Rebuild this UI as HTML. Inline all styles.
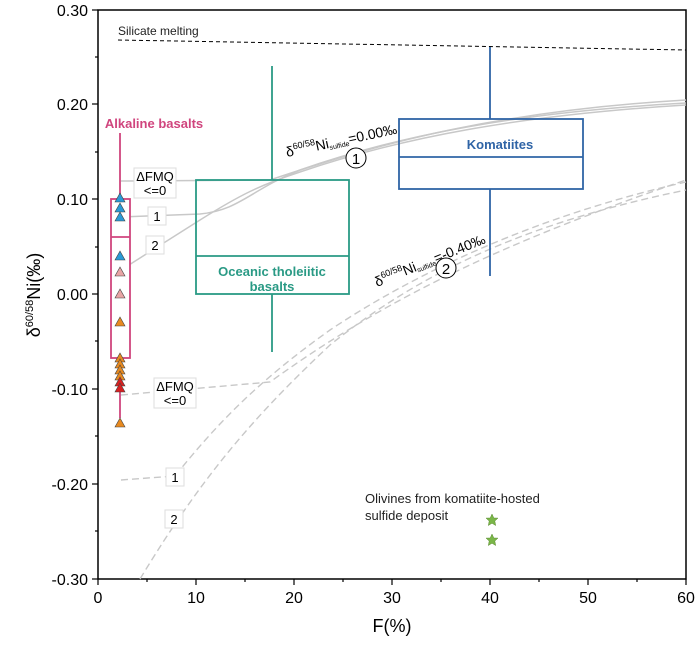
<!DOCTYPE html><html><head><style>body{margin:0;background:#fff}svg{font-family:"Liberation Sans",Arial,sans-serif}</style></head><body>
<svg width="700" height="649" viewBox="0 0 700 649" xmlns="http://www.w3.org/2000/svg">
<rect x="98" y="10" width="588" height="569" fill="none" stroke="#000" stroke-width="1.5"/>
<g stroke="#000" stroke-width="1.2">
<line x1="98" y1="10" x2="92" y2="10"/><line x1="98" y1="57" x2="95" y2="57"/><line x1="98" y1="104" x2="92" y2="104"/><line x1="98" y1="152" x2="95" y2="152"/><line x1="98" y1="199" x2="92" y2="199"/><line x1="98" y1="247" x2="95" y2="247"/><line x1="98" y1="294" x2="92" y2="294"/><line x1="98" y1="341" x2="95" y2="341"/><line x1="98" y1="389" x2="92" y2="389"/><line x1="98" y1="436" x2="95" y2="436"/><line x1="98" y1="484" x2="92" y2="484"/><line x1="98" y1="531" x2="95" y2="531"/><line x1="98" y1="579" x2="92" y2="579"/>
<line x1="98" y1="579" x2="98" y2="585"/><line x1="147" y1="579" x2="147" y2="582"/><line x1="196" y1="579" x2="196" y2="585"/><line x1="245" y1="579" x2="245" y2="582"/><line x1="294" y1="579" x2="294" y2="585"/><line x1="343" y1="579" x2="343" y2="582"/><line x1="392" y1="579" x2="392" y2="585"/><line x1="441" y1="579" x2="441" y2="582"/><line x1="490" y1="579" x2="490" y2="585"/><line x1="539" y1="579" x2="539" y2="582"/><line x1="588" y1="579" x2="588" y2="585"/><line x1="637" y1="579" x2="637" y2="582"/><line x1="686" y1="579" x2="686" y2="585"/>
</g>
<g font-size="16" text-anchor="end">
<text x="88" y="16">0.30</text><text x="88" y="110">0.20</text><text x="88" y="205">0.10</text><text x="88" y="300">0.00</text><text x="88" y="395">-0.10</text><text x="88" y="490">-0.20</text><text x="88" y="585">-0.30</text></g>
<g font-size="16" text-anchor="middle">
<text x="98" y="603">0</text><text x="196" y="603">10</text><text x="294" y="603">20</text><text x="392" y="603">30</text><text x="490" y="603">40</text><text x="588" y="603">50</text><text x="686" y="603">60</text>
<text x="392" y="632" font-size="18">F(%)</text></g>
<text transform="translate(40,295) rotate(-90)" font-size="18" text-anchor="middle">δ<tspan font-size="11" dy="-7">60/58</tspan><tspan dy="7">Ni(‰)</tspan></text>
<line x1="118" y1="40" x2="686" y2="50" stroke="#000" stroke-dasharray="4,3"/>
<text x="118" y="35" font-size="12" fill="#222">Silicate melting</text>
<!-- solid curves -->
<g fill="none" stroke="#c8c8c8" stroke-width="1.5">
<path d="M121,181 L270,180 C360,150 480,112 686,100"/>
<path d="M121,217 L200,214 C240,210 250,190 300,170 C400,135 520,112 686,103"/>
<path d="M121,270 L200,220 C240,195 260,185 300,172 C400,138 520,115 686,105"/>
</g>
<g fill="none" stroke="#c8c8c8" stroke-width="1.4" stroke-dasharray="7,4">
<path d="M121,395 L270,382 C370,310 480,250 686,180"/>
<path d="M121,480 L175,476 C220,420 260,380 330,330 C420,270 540,215 686,182"/>
<path d="M140,579 C200,480 250,420 330,345 C430,265 540,220 686,190"/>
</g>
<!-- label boxes -->
<g font-size="13" text-anchor="middle">
<rect x="134" y="168" width="42" height="30" fill="#fff" stroke="#ddd"/><text x="155" y="181">ΔFMQ</text><text x="155" y="195">&lt;=0</text>
<rect x="148" y="207" width="18" height="18" fill="#fff" stroke="#ddd"/><text x="157" y="221">1</text>
<rect x="146" y="236" width="18" height="18" fill="#fff" stroke="#ddd"/><text x="155" y="250">2</text>
<rect x="154" y="378" width="42" height="30" fill="#fff" stroke="#ddd"/><text x="175" y="391">ΔFMQ</text><text x="175" y="405">&lt;=0</text>
<rect x="166" y="468" width="18" height="18" fill="#fff" stroke="#ddd"/><text x="175" y="482">1</text>
<rect x="165" y="510" width="18" height="18" fill="#fff" stroke="#ddd"/><text x="174" y="524">2</text>
</g>
<!-- Alkaline -->
<g stroke="#d0457e" stroke-width="1.8" fill="none">
<line x1="120" y1="133" x2="120" y2="418"/>
<rect x="111" y="199" width="19" height="159" fill="#fff"/>
<line x1="111" y1="237" x2="130" y2="237"/>
</g>
<text x="154" y="128" font-size="13" font-weight="bold" fill="#d0457e" text-anchor="middle">Alkaline basalts</text>
<g stroke="#444" stroke-width="0.6">
<g fill="#2a9ad6"><path d="M120,193 l-5,9 h10z"/><path d="M120,203 l-5,9 h10z"/><path d="M120,212 l-5,9 h10z"/><path d="M120,251 l-5,9 h10z"/></g>
<g fill="#e8a5a5"><path d="M120,267 l-5,9 h10z"/><path d="M120,289 l-5,9 h10z"/></g>
<g fill="#e88a20"><path d="M120,317 l-5,9 h10z"/><path d="M120,353 l-5,9 h10z"/><path d="M120,359 l-5,9 h10z"/><path d="M120,365 l-5,9 h10z"/><path d="M120,371 l-5,9 h10z"/><path d="M120,418 l-5,9 h10z"/></g>
<g fill="#d82020"><path d="M120,377 l-5,9 h10z"/><path d="M120,383 l-5,9 h10z"/></g>
</g>
<!-- OTB -->
<g stroke="#2a9a85" stroke-width="1.8" fill="none">
<line x1="272" y1="66" x2="272" y2="180"/><line x1="272" y1="294" x2="272" y2="352"/>
<rect x="196" y="180" width="153" height="114"/><line x1="196" y1="256" x2="349" y2="256"/>
</g>
<text x="272" y="276" font-size="13" font-weight="bold" fill="#2a9a85" text-anchor="middle">Oceanic tholeiitic</text>
<text x="272" y="291" font-size="13" font-weight="bold" fill="#2a9a85" text-anchor="middle">basalts</text>
<!-- Komatiites -->
<g stroke="#2f64a6" stroke-width="1.8" fill="none">
<line x1="490" y1="47" x2="490" y2="119"/><line x1="490" y1="189" x2="490" y2="276"/>
<rect x="399" y="119" width="184" height="70"/><line x1="399" y1="157" x2="583" y2="157"/>
</g>
<text x="500" y="149" font-size="13" font-weight="bold" fill="#2f64a6" text-anchor="middle">Komatiites</text>
<!-- curve labels -->
<text transform="translate(287,157) rotate(-12)" font-size="14">δ<tspan font-size="9" dy="-6">60/58</tspan><tspan dy="6">Ni</tspan><tspan font-size="7" dy="2">sulfide</tspan><tspan dy="-2">=0.00‰</tspan></text>
<circle cx="356" cy="158" r="10" fill="#fff" stroke="#000"/><text x="356" y="164" font-size="15" text-anchor="middle">1</text>
<text transform="translate(377,287) rotate(-22)" font-size="14">δ<tspan font-size="9" dy="-6">60/58</tspan><tspan dy="6">Ni</tspan><tspan font-size="7" dy="2">sulfide</tspan><tspan dy="-2">=-0.40‰</tspan></text>
<circle cx="446" cy="268" r="10" fill="#fff" stroke="#000"/><text x="446" y="274" font-size="15" text-anchor="middle">2</text>
<!-- olivines -->
<text x="365" y="503" font-size="13" fill="#222">Olivines from komatiite-hosted</text>
<text x="365" y="520" font-size="13" fill="#222">sulfide deposit</text>
<g fill="#7ab648" stroke="#5a8a30" stroke-width="0.5">
<path transform="translate(492,520)" d="M0,-6 L1.8,-2 L6,-1.9 L2.8,1 L3.7,5.5 L0,3.2 L-3.7,5.5 L-2.8,1 L-6,-1.9 L-1.8,-2Z"/>
<path transform="translate(492,540)" d="M0,-6 L1.8,-2 L6,-1.9 L2.8,1 L3.7,5.5 L0,3.2 L-3.7,5.5 L-2.8,1 L-6,-1.9 L-1.8,-2Z"/>
</g>
</svg></body></html>
